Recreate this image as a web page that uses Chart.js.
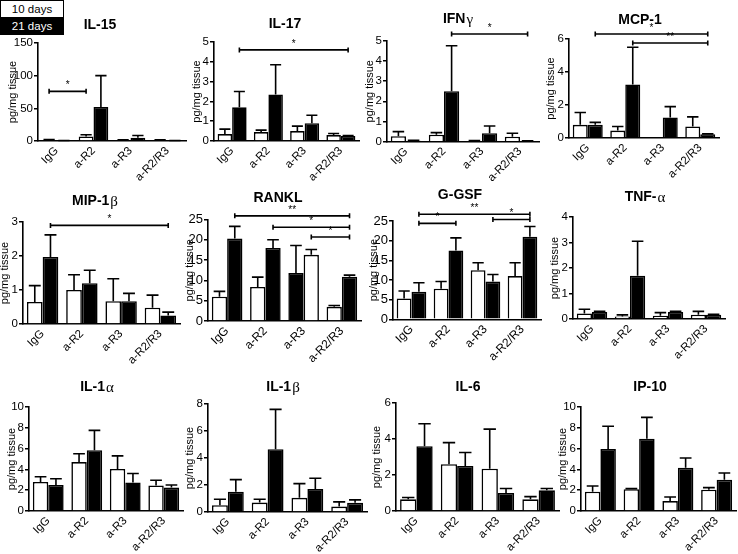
<!DOCTYPE html>
<html><head><meta charset="utf-8">
<script src="https://cdn.jsdelivr.net/npm/chart.js@4.4.1/dist/chart.umd.min.js"></script>
<style>
html,body{margin:0;padding:0;background:#fff;}
#wrap{position:relative;width:738px;height:554px;overflow:hidden;background:#fff;}
canvas.p{position:absolute;left:0;top:0;}
#legend{position:absolute;left:0;top:0;width:62px;border:1px solid #000;font:11.5px "Liberation Sans",Arial,sans-serif;z-index:5;}
#legend div{height:16px;line-height:16px;text-align:center;}
#legend .a{background:#fff;color:#000;border-bottom:1px solid #000;}
#legend .b{background:#000;color:#fff;}
</style></head><body>
<div id="wrap">
  <div id="legend"><div class="a">10 days</div><div class="b">21 days</div></div>
</div>
<script>
// ---------- data ----------
const groups = ['IgG', 'a-R2', 'a-R3', 'a-R2/R3'];
const seriesNames = ['10 days', '21 days'];
const yTitle = 'pg/mg tissue';

// IL-15
const il15_10 = [1.5, 7, 1.5, 1.5];
const il15_10_err = [0.8, 2.5, 0.5, 0.5];
const il15_21 = [0.5, 52, 5, 0.5];
const il15_21_err = [0.3, 48, 3.5, 0.3];
const il15_ticks = [0, 50, 100, 150];
const il15_sig = [[0, 0, 1, 0, 76, '*']];

// IL-17
const il17_10 = [0.35, 0.45, 0.5, 0.3];
const il17_10_err = [0.25, 0.1, 0.25, 0.08];
const il17_21 = [1.7, 2.35, 0.9, 0.25];
const il17_21_err = [0.8, 1.5, 0.4, 0.02];
const il17_ticks = [0, 1, 2, 3, 4, 5];
const il17_sig = [[0, 1, 3, 1, 4.6, '*']];

// IFNγ
const ifng_10 = [0.27, 0.35, 0.04, 0.25];
const ifng_10_err = [0.23, 0.1, 0.02, 0.17];
const ifng_21 = [0.05, 2.5, 0.42, 0.03];
const ifng_21_err = [0.02, 2.25, 0.36, 0.01];
const ifng_ticks = [0, 1, 2, 3, 4, 5];
const ifng_sig = [[1, 1, 3, 1, 5.33, '*']];

// MCP-1
const mcp1_10 = [0.8, 0.45, 0, 0.7];
const mcp1_10_err = [0.75, 0.25, 0, 0.58];
const mcp1_21 = [0.8, 3.25, 1.25, 0.22];
const mcp1_21_err = [0.15, 2.25, 0.65, 0.03];
const mcp1_ticks = [0, 2, 4, 6];
const mcp1_sig = [[0, 1, 3, 1, 6.3, '*'], [1, 1, 3, 1, 5.76, '**']];

// MIP-1β
const mip1b_10 = [0.65, 1.0, 0.67, 0.48];
const mip1b_10_err = [0.48, 0.45, 0.66, 0.37];
const mip1b_21 = [1.97, 1.2, 0.67, 0.25];
const mip1b_21_err = [0.65, 0.38, 0.23, 0.1];
const mip1b_ticks = [0, 1, 2, 3];
const mip1b_sig = [[0, 1, 3, 1, 2.9, '*']];

// RANKL (a-R3 group drawn with fills swapped in the source figure)
const rankl_10 = [6.0, 8.4, 11.8, 3.5];
const rankl_10_err = [1.3, 2.4, 6.8, 0.3];
const rankl_21 = [20.3, 18.0, 16.3, 10.9];
const rankl_21_err = [3.0, 2.0, 1.3, 0.4];
const rankl_ticks = [0, 5, 10, 15, 20, 25];
const rankl_sig = [[0, 1, 3, 1, 25.9, '**'], [1, 1, 3, 1, 23.1, '*'], [2, 1, 3, 1, 20.7, '*']];
const rankl_swapped = [2];

// G-GSF
const ggsf_10 = [5.3, 7.8, 12.5, 11.0];
const ggsf_10_err = [1.9, 1.8, 1.9, 3.4];
const ggsf_21 = [7.0, 17.5, 9.6, 21.0];
const ggsf_21_err = [2.3, 3.2, 1.8, 2.6];
const ggsf_ticks = [0, 5, 10, 15, 20, 25];
const ggsf_sig = [[0, 1, 3, 1, 26.7, '**'], [0, 1, 1, 1, 24.4, '*'], [2, 1, 3, 1, 25.4, '*']];

// TNF-α
const tnfa_10 = [0.22, 0.1, 0.13, 0.17];
const tnfa_10_err = [0.16, 0.06, 0.12, 0.13];
const tnfa_21 = [0.27, 1.7, 0.27, 0.17];
const tnfa_21_err = [0.03, 1.35, 0.03, 0.01];
const tnfa_ticks = [0, 1, 2, 3, 4];

// IL-1α
const il1a_10 = [2.8, 4.7, 4.05, 2.45];
const il1a_10_err = [0.5, 0.8, 1.25, 0.5];
const il1a_21 = [2.5, 5.85, 2.75, 2.25];
const il1a_21_err = [0.6, 1.9, 0.85, 0.25];
const il1a_ticks = [0, 2, 4, 6, 8, 10];

// IL-1β
const il1b_10 = [0.5, 0.7, 1.05, 0.4];
const il1b_10_err = [0.45, 0.25, 1.05, 0.35];
const il1b_21 = [1.5, 4.65, 1.7, 0.68];
const il1b_21_err = [0.9, 2.95, 0.8, 0.22];
const il1b_ticks = [0, 2, 4, 6, 8];

// IL-6
const il6_10 = [0.65, 2.6, 2.35, 0.65];
const il6_10_err = [0.1, 1.2, 2.2, 0.15];
const il6_21 = [3.6, 2.5, 1.0, 1.15];
const il6_21_err = [1.25, 0.75, 0.25, 0.1];
const il6_ticks = [0, 2, 4, 6];

// IP-10
const ip10_10 = [1.85, 2.1, 0.95, 2.05];
const ip10_10_err = [0.55, 0.05, 0.4, 0.2];
const ip10_21 = [5.95, 6.95, 4.15, 3.0];
const ip10_21_err = [2.2, 2.05, 0.95, 0.65];
const ip10_ticks = [0, 2, 4, 6, 8, 10];

// ---------- layout (page pixels) ----------
const panels = [
  {title:'IL-15', greek:'', d10:il15_10, e10:il15_10_err, d21:il15_21, e21:il15_21_err, ticks:il15_ticks, sig:il15_sig, box:[38,43,186,141], tpos:[100,25], yl:25},
  {title:'IL-17', greek:'', d10:il17_10, e10:il17_10_err, d21:il17_21, e21:il17_21_err, ticks:il17_ticks, sig:il17_sig, box:[214,42,359,141], tpos:[285,24], yl:17},
  {title:'IFN', greek:'γ', d10:ifng_10, e10:ifng_10_err, d21:ifng_21, e21:ifng_21_err, ticks:ifng_ticks, sig:ifng_sig, box:[387,40.7,539,141.7], tpos:[458,19], yl:17},
  {title:'MCP-1', greek:'', d10:mcp1_10, e10:mcp1_10_err, d21:mcp1_21, e21:mcp1_21_err, ticks:mcp1_ticks, sig:mcp1_sig, box:[569,39,719,138], tpos:[640,20], yl:18},
  {title:'MIP-1', greek:'β', d10:mip1b_10, e10:mip1b_10_err, d21:mip1b_21, e21:mip1b_21_err, ticks:mip1b_ticks, sig:mip1b_sig, box:[23,222,180,324], tpos:[95,201], yl:18},
  {title:'RANKL', greek:'', d10:rankl_10, e10:rankl_10_err, d21:rankl_21, e21:rankl_21_err, ticks:rankl_ticks, sig:rankl_sig, swap:rankl_swapped, box:[208,219.5,361,321], tpos:[278,198], yl:18, fs:13},
  {title:'G-GSF', greek:'', d10:ggsf_10, e10:ggsf_10_err, d21:ggsf_21, e21:ggsf_21_err, ticks:ggsf_ticks, sig:ggsf_sig, box:[393,221,541,319.3], tpos:[460,195], yl:19, fs:13},
  {title:'TNF-', greek:'α', d10:tnfa_10, e10:tnfa_10_err, d21:tnfa_21, e21:tnfa_21_err, ticks:tnfa_ticks, sig:[], box:[573,217,725,319], tpos:[645,197], yl:18},
  {title:'IL-1', greek:'α', d10:il1a_10, e10:il1a_10_err, d21:il1a_21, e21:il1a_21_err, ticks:il1a_ticks, sig:[], box:[29,407,183,511], tpos:[97,387], yl:17},
  {title:'IL-1', greek:'β', d10:il1b_10, e10:il1b_10_err, d21:il1b_21, e21:il1b_21_err, ticks:il1b_ticks, sig:[], box:[208,404,367,512], tpos:[283,387], yl:18},
  {title:'IL-6', greek:'', d10:il6_10, e10:il6_10_err, d21:il6_21, e21:il6_21_err, ticks:il6_ticks, sig:[], box:[396,403,559,511], tpos:[468,387], yl:19},
  {title:'IP-10', greek:'', d10:ip10_10, e10:ip10_10_err, d21:ip10_21, e21:ip10_21_err, ticks:ip10_ticks, sig:[], box:[581,407,736,511], tpos:[650,387], yl:18}
];

const FONT = '"Liberation Sans", Arial, Helvetica, sans-serif';
Chart.defaults.font.family = FONT;
Chart.defaults.color = '#000';
Chart.defaults.animation = false;

const W = 738, H = 554;

const deco = {
  id: 'deco',
  afterDatasetsDraw(chart) {
    const p = chart.config.options.plugins.deco;
    const ctx = chart.ctx, y = chart.scales.y;
    ctx.save();
    ctx.strokeStyle = '#000';
    ctx.lineWidth = 1.6;
    chart.data.datasets.forEach((ds, di) => {
      const meta = chart.getDatasetMeta(di);
      meta.data.forEach((bar, i) => {
        const e = ds.errors[i];
        if (!e) return;
        const top = y.getPixelForValue(ds.data[i] + e);
        const cap = bar.width * 0.38;
        ctx.beginPath();
        ctx.moveTo(bar.x, bar.y);
        ctx.lineTo(bar.x, top);
        ctx.moveTo(bar.x - cap, top);
        ctx.lineTo(bar.x + cap, top);
        ctx.stroke();
      });
    });
    // significance brackets
    ctx.font = '10px ' + FONT;
    ctx.fillStyle = '#000';
    ctx.textAlign = 'center';
    ctx.textBaseline = 'bottom';
    p.sig.forEach(([g1, s1, g2, s2, v, lab]) => {
      const x1 = chart.getDatasetMeta(s1).data[g1].x;
      const x2 = chart.getDatasetMeta(s2).data[g2].x;
      const yy = y.getPixelForValue(v);
      ctx.beginPath();
      ctx.moveTo(x1, yy); ctx.lineTo(x2, yy);
      ctx.moveTo(x1, yy - 2.5); ctx.lineTo(x1, yy + 2.5);
      ctx.moveTo(x2, yy - 2.5); ctx.lineTo(x2, yy + 2.5);
      ctx.stroke();
      ctx.fillText(lab, (x1 + x2) / 2, yy - 1);
    });
    ctx.restore();
  },
  afterDraw(chart) {
    const p = chart.config.options.plugins.deco;
    const ctx = chart.ctx;
    ctx.save();
    ctx.fillStyle = '#000';
    ctx.textBaseline = 'middle';
    const fb = 'bold 14px ' + FONT, fg = '15px "Liberation Serif", "DejaVu Serif", serif';
    ctx.font = fb; const w1 = ctx.measureText(p.title).width;
    ctx.font = fg; const w2 = p.greek ? ctx.measureText(p.greek).width + 1 : 0;
    let x = p.tpos[0] - (w1 + w2) / 2;
    ctx.textAlign = 'left';
    ctx.font = fb; ctx.fillText(p.title, x, p.tpos[1]);
    if (p.greek) { ctx.font = fg; ctx.fillText(p.greek, x + w1 + 1, p.tpos[1] + 1); }
    ctx.restore();
  }
};

const wrap = document.getElementById('wrap');

panels.forEach(p => {
  const c = document.createElement('canvas');
  c.width = W; c.height = H; c.className = 'p';
  wrap.appendChild(c);
  const [l, t, r, b] = p.box;
  const lh = 11 * 1.2;
  const YW = Math.min(l, p.yl + lh / 2);
  const XH = Math.min(60, H - b);
  const fs = p.fs || 11.5;
  const swap = p.swap || [];
  new Chart(c, {
    type: 'bar',
    data: {
      labels: groups,
      datasets: [
        {label: seriesNames[0], data: p.d10, errors: p.e10,
         backgroundColor: ctx => swap.includes(ctx.dataIndex) ? '#000' : '#fff',
         borderColor: '#000', borderWidth: 1.6, categoryPercentage: 0.8, barPercentage: 1.0},
        {label: seriesNames[1], data: p.d21, errors: p.e21,
         backgroundColor: ctx => swap.includes(ctx.dataIndex) ? '#fff' : '#000',
         borderColor: '#000', borderWidth: 1.6, categoryPercentage: 0.8, barPercentage: 1.0}
      ]
    },
    options: {
      responsive: false,
      animation: false,
      layout: {padding: {left: l - YW, top: t, right: W - r, bottom: H - b - XH}},
      plugins: {legend: {display: false}, tooltip: {enabled: false}, title: {display: false}, deco: p},
      scales: {
        x: {
          offset: true,
          grid: {display: false, drawTicks: false, tickLength: 0},
          border: {display: true, color: '#000', width: 1.6},
          ticks: {autoSkip: false, minRotation: 45, maxRotation: 45, padding: 3, font: {size: fs === 13 ? 12 : 11.5}, color: '#000'},
          afterFit(s) { s.height = XH; }
        },
        y: {
          min: 0, max: p.ticks[p.ticks.length - 1],
          grid: {display: true, drawOnChartArea: false, drawTicks: true, tickLength: 4, color: '#000', lineWidth: 1.5},
          border: {display: true, color: '#000', width: 1.6},
          ticks: {padding: 1, font: {size: fs}, color: '#000'},
          afterBuildTicks(s) { s.ticks = p.ticks.map(v => ({value: v})); },
          title: {display: true, text: yTitle, font: {size: 11}, color: '#000', padding: {top: YW - p.yl - lh / 2, bottom: 0}},
          afterFit(s) { s.width = YW; }
        }
      }
    },
    plugins: [deco]
  });
});
</script>
</body></html>
